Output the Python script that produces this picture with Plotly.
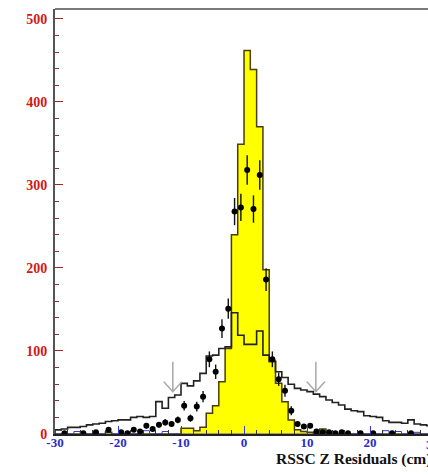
import numpy as np
import plotly.graph_objects as go

# Residual histograms, 1 cm bins from -30 to 30 cm
bin_edges = list(range(-30, 31))

# Signal simulation (filled yellow histogram)
signal_counts = [
    0, 0, 0, 0, 0, 0, 0, 0, 2, 0,            # -30 .. -21
    0, 0, 0, 0, 0, 0, 0, 0, 0, 0,            # -20 .. -11
    7, 7, 4, 8, 25, 34, 63, 103, 240, 349,   # -10 .. -1
    462, 439, 370, 198, 87, 61, 39, 17, 5, 3,  # 0 .. 9
    2, 1, 6, 2, 0, 0, 0, 0, 0, 0,            # 10 .. 19
    0, 0, 0, 0, 0, 0, 0, 0, 0, 0,            # 20 .. 29
]

# Background simulation (open black histogram)
background_counts = [
    5, 6, 8, 8, 9, 11, 12, 13, 15, 16,        # -30 .. -21
    17, 17, 20, 21, 20, 21, 39, 31, 44, 47,   # -20 .. -11
    61, 58, 64, 73, 94, 95, 103, 105, 146, 119,  # -10 .. -1
    108, 108, 124, 95, 88, 75, 68, 60, 55, 53,   # 0 .. 9
    51, 48, 45, 41, 38, 35, 30, 28, 27, 22,   # 10 .. 19
    21, 20, 16, 14, 14, 13, 17, 12, 11, 10,   # 20 .. 29
]

# Small secondary component (thin blue histogram)
minor_counts = [0] * 60
for lo, n in [(-27, 3), (-16, 4), (-13, 3), (22, 4), (24, 3), (27, 2)]:
    minor_counts[lo + 30] = n

# Data points (bin centres, counts)
data_x = [-28.5, -25.5, -23.5, -21.5, -19.5, -18.5, -17.5, -16.5, -15.5, -14.5,
          -13.5, -12.5, -11.5, -10.5, -9.5, -8.5, -7.5, -6.5, -5.5, -4.5,
          -3.5, -2.5, -1.5, -0.5, 0.5, 1.5, 2.5, 3.5, 4.5, 5.5,
          6.5, 7.5, 8.5, 9.5, 10.5, 11.5, 12.5, 13.5, 14.5, 15.5,
          16.5, 18.5, 20.5, 23.5, 26.5]
data_y = [1, 1, 2, 5, 2, 1, 5, 3, 10, 6,
          11, 14, 12, 17, 34, 19, 33, 45, 90, 75,
          127, 151, 268, 273, 318, 271, 312, 186, 90, 66,
          52, 28, 12, 9, 10, 3, 2, 2, 1, 2,
          1, 1, 1, 1, 1]

# Cut positions marked with arrows (cm, arrow tip count)
cut_x = [-11.3, 11.4]
cut_tip = [51, 51]

x_ticks = [-30, -20, -10, 0, 10, 20]
y_ticks = [0, 100, 200, 300, 400, 500]

serif = "Liberation Serif"


def step_xy(edges, counts):
    xs = [edges[0]] + list(edges[:-1]) + [edges[-1], edges[-1]]
    ys = [0] + list(counts) + [counts[-1], 0]
    return xs, ys


fig = go.Figure()

sx, sy = step_xy(bin_edges, signal_counts)
fig.add_trace(go.Scatter(
    x=sx, y=sy, mode="lines", line=dict(shape="hv", color="#4a3f00", width=1.5),
    fill="tozeroy", fillcolor="#ffff00", hoverinfo="skip", showlegend=False))

mx, my = step_xy(bin_edges, minor_counts)
fig.add_trace(go.Scatter(
    x=mx, y=my, mode="lines", line=dict(shape="hv", color="#3a3ad8", width=1),
    hoverinfo="skip", showlegend=False))

bx, by = step_xy(bin_edges, background_counts)
fig.add_trace(go.Scatter(
    x=bx, y=by, mode="lines", line=dict(shape="hv", color="#222222", width=1.6),
    hoverinfo="skip", showlegend=False))

fig.add_trace(go.Scatter(
    x=data_x, y=data_y, mode="markers",
    marker=dict(symbol="circle", size=6, color="black"),
    error_y=dict(type="data", array=list(np.sqrt(data_y)), color="#111111",
                 thickness=1.4, width=0),
    showlegend=False))

# Downward arrows marking the cuts
for cx, ct in zip(cut_x, cut_tip):
    fig.add_shape(type="path", xref="x", yref="y",
                  xsizemode="pixel", ysizemode="pixel",
                  xanchor=cx, yanchor=ct,
                  path="M0,30 L0,0 M-9,10 L0,0 L9,10",
                  line=dict(color="#a8a8a8", width=1.5))

# Top frame line
fig.add_shape(type="line", xref="paper", yref="paper", x0=0, x1=1.05, y0=1, y1=1,
              line=dict(color="#7a7a7a", width=2))

# Tick label at +30 and axis title sit at the right end of the axis
fig.add_annotation(text="<b>30</b>", xref="paper", yref="paper", x=1.0134, y=0,
                   yshift=-10, xanchor="center", yanchor="middle", showarrow=False,
                   font=dict(family=serif, size=13, color="#2b2bc8"))
fig.add_annotation(text="<b>RSSC Z Residuals (cm)</b>", xref="paper", yref="paper",
                   x=1.0134, y=0, yshift=-25, xanchor="right", yanchor="middle",
                   showarrow=False, font=dict(family=serif, size=15.5, color="#111111"))

fig.update_layout(
    width=428, height=475,
    margin=dict(l=55, r=0, t=9, b=41),
    paper_bgcolor="white", plot_bgcolor="white",
    showlegend=False,
    xaxis=dict(
        range=[-30, 29.2], tickvals=x_ticks, ticktext=[f"<b>{v}</b>" for v in x_ticks],
        ticks="inside", ticklen=8, tickwidth=1.2, tickcolor="#3a3ad8",
        minor=dict(ticks="inside", dtick=2, tick0=0, ticklen=4, tickcolor="#333333", tickwidth=1),
        showline=True, linecolor="#222222", linewidth=1.5, showgrid=False, zeroline=False,
        tickfont=dict(family=serif, size=13, color="#2b2bc8"),
        ticklabelstandoff=-4,
    ),
    yaxis=dict(
        range=[0, 512], tickvals=y_ticks, ticktext=[f"<b>{v}</b>" for v in y_ticks],
        ticks="inside", ticklen=8, tickwidth=1.2, tickcolor="#a02828",
        minor=dict(ticks="inside", dtick=20, tick0=0, ticklen=4, tickcolor="#a02828", tickwidth=1),
        showline=True, linecolor="#555555", linewidth=2, showgrid=False, zeroline=False,
        tickfont=dict(family=serif, size=14, color="#d01818"),
        ticklabelstandoff=3,
    ),
)

fig.write_html("out.html")
